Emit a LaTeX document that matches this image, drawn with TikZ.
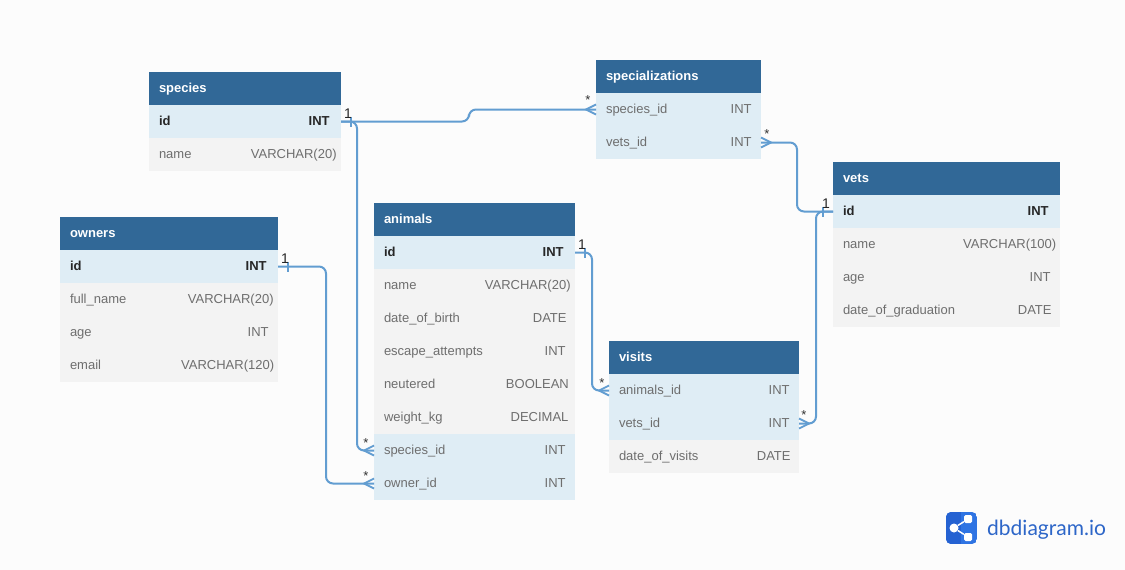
\documentclass[tikz,border=0pt]{standalone}
\usepackage{fontspec}
\setmainfont{Liberation Sans}
\newfontfamily\logofont{Lato}
\usetikzlibrary{positioning}
\definecolor{headblue}{HTML}{316897}
\definecolor{keyblue}{HTML}{DFEDF5}
\definecolor{rowgrey}{HTML}{F3F3F3}
\definecolor{pagegrey}{HTML}{FCFCFC}
\definecolor{fieldgrey}{HTML}{6E6E6E}
\definecolor{linkblue}{HTML}{629DD1}
\definecolor{logodark}{HTML}{2562D2}
\definecolor{logolight}{HTML}{2F74E3}
\definecolor{logotext}{HTML}{2D66C8}
% type column starts as if it were set a size smaller
\newcommand{\dbfield}[3][1pt]{#2\hfill\setbox0\hbox{#3}\makebox[\dimexpr0.923\wd0+#1\relax][l]{#3}}
\tikzset{
  dbcell/.style={anchor=north west,inner ysep=0pt,inner xsep=10pt,outer sep=0pt,minimum height=33pt,
    text width=#1-20pt,text height=10.5pt,text depth=2pt,font=\fontsize{13}{15}\selectfont},
  tablehead/.style={dbcell=#1,fill=headblue,text=white,font=\fontsize{13}{15}\selectfont\bfseries},
  rowplain/.style={dbcell=#1,fill=rowgrey,text=fieldgrey},
  rowlink/.style={dbcell=#1,fill=keyblue,text=fieldgrey},
  rowid/.style={dbcell=#1,fill=keyblue,text=black!85,font=\fontsize{13}{15}\selectfont\bfseries},
  link/.style={draw=linkblue,line width=2pt,rounded corners=7pt},
  onebar/.style={fill=linkblue,inner sep=0pt,minimum width=1.6pt,minimum height=10pt},
  onelabel/.style={inner sep=0pt,font=\fontsize{14}{14}\selectfont,text=black!85},
  starlabel/.style={inner sep=0pt,font=\fontsize{13}{13}\selectfont,text=black!80},
  crowfoot/.pic={\draw[linkblue,line width=1.8pt] (0,-5) -- (-10,0) -- (0,5);},
}
\begin{document}
\begin{tikzpicture}[x=1pt,y=-1pt]
\path[use as bounding box,fill=pagegrey] (0,0) rectangle (1125,570);

% species
\node[tablehead=192] (species) at (149,72) {species};
\node[rowid=192,below=0pt of species] (species_id) {\dbfield[3pt]{id}{INT}};
\node[rowplain=192,below=0pt of species_id] (species_name) {\dbfield{name}{VARCHAR(20)}};

% specializations
\node[tablehead=165] (spec) at (596,60) {specializations};
\node[rowlink=165,below=0pt of spec] (spec_species) {\dbfield{species\_id}{INT}};
\node[rowlink=165,below=0pt of spec_species] (spec_vets) {\dbfield{vets\_id}{INT}};

% vets
\node[tablehead=227] (vets) at (833,162) {vets};
\node[rowid=227,below=0pt of vets] (vets_id) {\dbfield[3pt]{id}{INT}};
\node[rowplain=227,below=0pt of vets_id] (vets_name) {\dbfield{name}{VARCHAR(100)}};
\node[rowplain=227,below=0pt of vets_name] (vets_age) {\dbfield{age}{INT}};
\node[rowplain=227,below=0pt of vets_age] (vets_grad) {\dbfield{date\_of\_graduation}{DATE}};

% owners
\node[tablehead=218] (owners) at (60,217) {owners};
\node[rowid=218,below=0pt of owners] (owners_id) {\dbfield[3pt]{id}{INT}};
\node[rowplain=218,below=0pt of owners_id] (owners_name) {\dbfield{full\_name}{VARCHAR(20)}};
\node[rowplain=218,below=0pt of owners_name] (owners_age) {\dbfield{age}{INT}};
\node[rowplain=218,below=0pt of owners_age] (owners_email) {\dbfield{email}{VARCHAR(120)}};

% animals
\node[tablehead=201] (animals) at (374,203) {animals};
\node[rowid=201,below=0pt of animals] (animals_id) {\dbfield[3pt]{id}{INT}};
\node[rowplain=201,below=0pt of animals_id] (animals_name) {\dbfield{name}{VARCHAR(20)}};
\node[rowplain=201,below=0pt of animals_name] (animals_birth) {\dbfield{date\_of\_birth}{DATE}};
\node[rowplain=201,below=0pt of animals_birth] (animals_escape) {\dbfield{escape\_attempts}{INT}};
\node[rowplain=201,below=0pt of animals_escape] (animals_neutered) {\dbfield{neutered}{BOOLEAN}};
\node[rowplain=201,below=0pt of animals_neutered] (animals_weight) {\dbfield{weight\_kg}{DECIMAL}};
\node[rowlink=201,below=0pt of animals_weight] (animals_species) {\dbfield{species\_id}{INT}};
\node[rowlink=201,below=0pt of animals_species] (animals_owner) {\dbfield{owner\_id}{INT}};

% visits
\node[tablehead=190] (visits) at (609,341) {visits};
\node[rowlink=190,below=0pt of visits] (visits_animals) {\dbfield{animals\_id}{INT}};
\node[rowlink=190,below=0pt of visits_animals] (visits_vets) {\dbfield{vets\_id}{INT}};
\node[rowplain=190,below=0pt of visits_vets] (visits_date) {\dbfield{date\_of\_visits}{DATE}};

% links
\draw[link] (species_id.east) -- ++(128,0) |- (spec_species.west);
\draw[link] (species_id.east) -- ++(16,0) |- (animals_species.west);
\draw[link] (owners_id.east) -- ++(48,0) |- (animals_owner.west);
\draw[link] (animals_id.east) -- ++(17,0) |- (visits_animals.west);
\draw[link] (vets_id.west) -- ++(-36,0) |- (spec_vets.east);
\draw[link] (vets_id.west) -- ++(-17,0) |- (visits_vets.east);

% ends
\pic at (spec_species.west) {crowfoot};
\pic at (animals_species.west) {crowfoot};
\pic at (animals_owner.west) {crowfoot};
\pic at (visits_animals.west) {crowfoot};
\pic[xscale=-1] at (spec_vets.east) {crowfoot};
\pic[xscale=-1] at (visits_vets.east) {crowfoot};
\node[onebar,right=9pt of species_id.east] (species_bar) {};
\node[onebar,right=9pt of owners_id.east] (owners_bar) {};
\node[onebar,right=9pt of animals_id.east] (animals_bar) {};
\node[onebar,left=9pt of vets_id.west] (vets_bar) {};
\node[onelabel,above left=-2pt and -1pt of species_bar.north] (species_one) {1};
\node[onelabel,above left=-2pt and -1pt of owners_bar.north] (owners_one) {1};
\node[onelabel,above left=-2pt and -1pt of animals_bar.north] (animals_one) {1};
\node[onelabel,above right=-2pt and -1pt of vets_bar.north] (vets_one) {1};
\node[starlabel] (star_spec) at (588,100) {*};
\node[starlabel] (star_vets) at (767,134) {*};
\node[starlabel] (star_species) at (366,443) {*};
\node[starlabel] (star_owner) at (366,476) {*};
\node[starlabel] (star_visits) at (602,383) {*};
\node[starlabel] (star_visitvets) at (804,415) {*};

% logo
\begin{scope}
\clip[rounded corners=5pt] (946,512) rectangle (977,544);
\fill[logolight] (946,512) rectangle (977,544);
\fill[logodark] (946,512) rectangle (961,544);
\end{scope}
\node[circle,fill=white,inner sep=0pt,minimum size=9pt] (logo_hub) at (954,528) {};
\node[fill=white,rounded corners=1.5pt,inner sep=0pt,minimum size=8pt] (logo_top) at (968,519) {};
\node[fill=white,rounded corners=1.5pt,inner sep=0pt,minimum size=8pt] (logo_low) at (968,537) {};
\draw[white,line width=1.5pt] (logo_hub) -- (logo_top);
\draw[white,line width=1.5pt] (logo_hub) -- (logo_low);
\node[anchor=west,inner sep=0pt,text=logotext,font=\logofont\fontsize{21}{21}\selectfont] (logo_text) at (987,529.5) {dbdiagram.io};
\end{tikzpicture}
\end{document}
